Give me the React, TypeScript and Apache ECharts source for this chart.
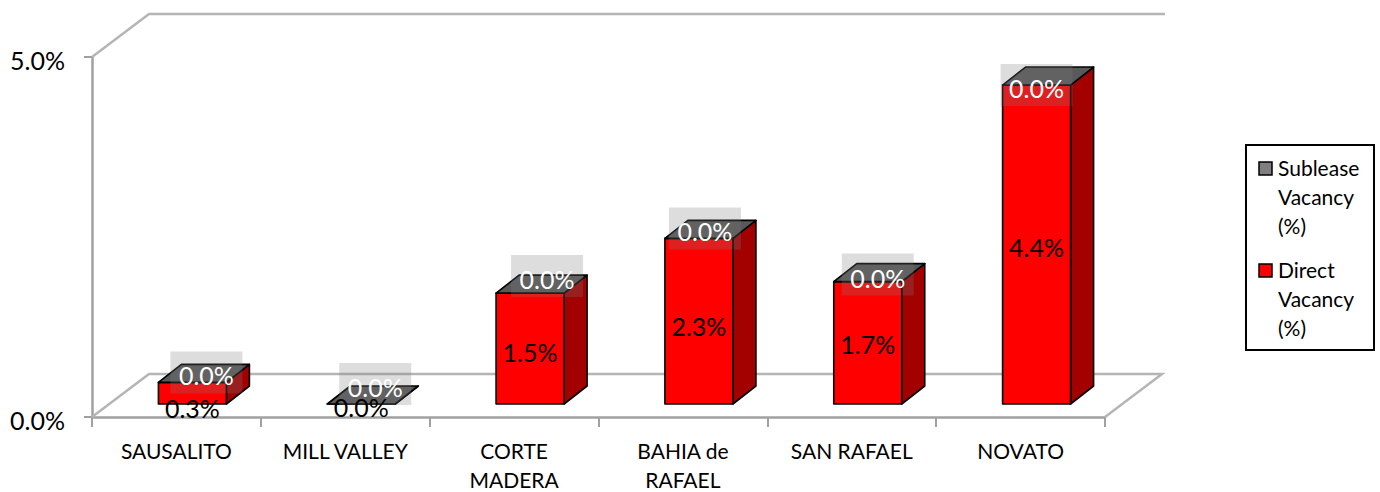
import React, { useEffect, useRef } from "react";
import * as echarts from "echarts";

const categories = ["SAUSALITO", "MILL VALLEY", "CORTE\nMADERA", "BAHIA de\nRAFAEL", "SAN RAFAEL", "NOVATO"];
const directVacancy = [0.3, 0.0, 1.54, 2.3, 1.7, 4.43];
const subleaseVacancy = [0.0, 0.0, 0.0, 0.0, 0.0, 0.0];
const yTicks = { min: 0, max: 5, interval: 5 };

// Hand-placed label nudges of the original, in pixels, kept apart from the data
const directLabelNudge = [[0, 15], [0, 3], [0, 3], [0, 5], [0, 1], [0, 2]];
const subleaseLabelNudge = [[14, -7], [14, -17], [17, -14], [6, -7], [10, -4], [0, 3]];

const FONT = "Lato";
const BASE_DX = 16, BASE_DY = -13; // bar position on the floor
const DEPTH_DX = 23, DEPTH_DY = -18; // bar depth
const WALL_DX = 57, WALL_DY = -43; // chart depth
const HALF_BAR = 34;
const WALL = "#b5b5b5";
const fmt = (v: number) => v.toFixed(1) + "%";

const px = (api: any, i: number, v: number) => {
  const [x, y] = api.coord([i, v]);
  return [x + BASE_DX, y + BASE_DY];
};

const face = (points: number[][], fill: string) => ({
  type: "polygon",
  shape: { points },
  style: { fill, stroke: "#000", lineWidth: 1.6, lineJoin: "round" },
});

const renderDirect = (params: any, api: any) => {
  const i = api.value(0), v = api.value(1);
  const [cx, bottom] = px(api, i, 0);
  const [, top] = px(api, i, v);
  const l = cx - HALF_BAR, r = cx + HALF_BAR;
  return {
    type: "group",
    children: [
      face([[r, bottom], [r + DEPTH_DX, bottom + DEPTH_DY], [r + DEPTH_DX, top + DEPTH_DY], [r, top]], "#a30000"),
      face([[l, bottom], [r, bottom], [r, top], [l, top]], "#ff0000"),
    ],
  };
};

const renderSublease = (params: any, api: any) => {
  const i = api.value(0), base = api.value(1), v = api.value(2);
  const [cx] = px(api, i, 0);
  const [, top] = px(api, i, base + v);
  const l = cx - HALF_BAR, r = cx + HALF_BAR;
  return face([[l, top], [r, top], [r + DEPTH_DX, top + DEPTH_DY], [l + DEPTH_DX, top + DEPTH_DY]], "#595959");
};

const renderSubleaseLabel = (params: any, api: any) => {
  const i = api.value(0), base = api.value(1), v = api.value(2);
  const [cx, top] = px(api, i, base + v);
  const [nx, ny] = subleaseLabelNudge[i];
  const x = cx + nx, y = top + ny;
  return {
    type: "group",
    children: [
      { type: "rect", shape: { x: x - 36, y: y - 24, width: 72, height: 42 }, style: { fill: "rgba(123,123,123,0.26)" } },
      { type: "text", x, y, style: { text: fmt(v), fill: "#fff", font: `25px ${FONT}`, align: "center", verticalAlign: "middle" } },
    ],
  };
};

const renderDirectLabel = (params: any, api: any) => {
  const i = api.value(0), v = api.value(1);
  const [cx, bottom] = px(api, i, 0);
  const [, top] = px(api, i, v);
  const [nx, ny] = directLabelNudge[i];
  return {
    type: "text",
    x: cx + nx,
    y: (top + bottom) / 2 + ny,
    style: { text: fmt(v), fill: "#000", font: `25px ${FONT}`, align: "center", verticalAlign: "middle" },
  };
};

const renderWalls = (params: any, api: any) => {
  const { x, y, width, height } = params.coordSys;
  const line = (points: number[][]) => ({
    type: "polyline",
    shape: { points },
    style: { fill: "none", stroke: WALL, lineWidth: 2.5 },
  });
  return {
    type: "group",
    children: [
      line([[x, y], [x + WALL_DX, y + WALL_DY], [x + width + WALL_DX + 3, y + WALL_DY]]),
      line([[x, y + height], [x + WALL_DX, y + height + WALL_DY], [x + width + WALL_DX, y + height + WALL_DY], [x + width, y + height]]),
    ],
  };
};

const legendEntries = [
  { name: "Sublease\nVacancy\n(%)", color: "#7f7f7f", top: 168 },
  { name: "Direct\nVacancy\n(%)", color: "#ff0000", top: 270 },
];

const App = () => {
  const ref = useRef<HTMLDivElement>(null);
  useEffect(() => {
    document.body.style.margin = "0";
    const chart = echarts.init(ref.current!, undefined, { renderer: "svg" });
    const rows = categories.map((_, i) => [i, directVacancy[i], subleaseVacancy[i]]);
    chart.setOption({
      animation: false,
      backgroundColor: "#fff",
      grid: { left: 92, top: 57, width: 1013, height: 360, outerBoundsMode: "none" },
      xAxis: {
        type: "category",
        data: categories,
        axisLine: { lineStyle: { color: "#a0a0a0", width: 2.5 } },
        axisTick: { show: true, alignWithLabel: false, length: 10, lineStyle: { color: "#a0a0a0", width: 2 } },
        axisLabel: { color: "#000", fontFamily: FONT, fontSize: 21, lineHeight: 29, margin: 19, interval: 0 },
      },
      yAxis: {
        type: "value",
        min: yTicks.min,
        max: yTicks.max,
        interval: yTicks.interval,
        splitLine: { show: false },
        axisLine: { show: true, lineStyle: { color: "#a0a0a0", width: 2.5 } },
        axisTick: { show: true, length: 8, lineStyle: { color: "#a0a0a0", width: 2 } },
        axisLabel: {
          formatter: (v: number) => `{t|${fmt(v)}}`,
          margin: 27,
          rich: { t: { color: "#000", fontFamily: FONT, fontSize: 25, padding: [6, 0, 0, 0] } },
        },
      },
      series: [
        { type: "custom", name: "walls", silent: true, z: 1, renderItem: renderWalls, data: [[0]], encode: { x: 0 } },
        { type: "custom", name: "Direct Vacancy (%)", z: 2, renderItem: renderDirect, data: rows, encode: { x: 0, y: 1 } },
        { type: "custom", name: "Sublease Vacancy (%)", z: 3, renderItem: renderSublease, data: rows, encode: { x: 0, y: [1, 2] } },
        { type: "custom", name: "Sublease labels", z: 4, renderItem: renderSubleaseLabel, data: rows, encode: { x: 0, y: 1 } },
        { type: "custom", name: "Direct labels", z: 5, renderItem: renderDirectLabel, data: rows, encode: { x: 0, y: 1 } },
      ],
      graphic: [
        { type: "rect", shape: { x: 1246, y: 145, width: 128, height: 205 }, style: { fill: "#fff", stroke: "#000", lineWidth: 2 } },
        ...legendEntries.flatMap(e => [
          { type: "rect", shape: { x: 1259, y: e.top - 6, width: 13, height: 13 }, style: { fill: e.color, stroke: "#000", lineWidth: 1.5 } },
          { type: "text", x: 1278, y: e.top - 15, style: { text: e.name, fill: "#000", font: `21px ${FONT}`, lineHeight: 29 } },
        ]),
      ],
    });
    return () => chart.dispose();
  }, []);
  return <div ref={ref} style={{ width: 1380, height: 492 }} />;
};

export default App;
